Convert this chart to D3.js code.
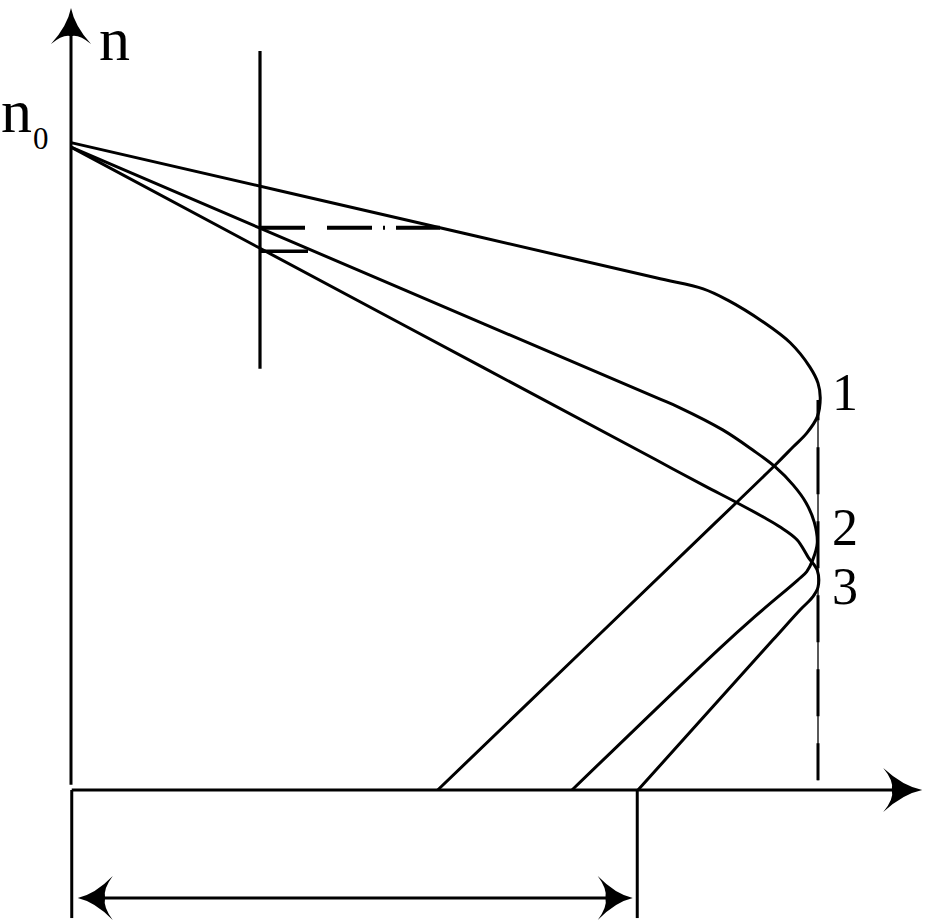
<!DOCTYPE html>
<html><head><meta charset="utf-8">
<script src="https://cdn.jsdelivr.net/npm/d3@7"></script>
<style>html,body{margin:0;padding:0;background:#fff;} svg{display:block;} text{font-family:"Liberation Serif","Times New Roman",serif;}</style>
</head><body>
<svg id="chart" width="935" height="920"></svg>
<script>
// ---- data (x in relative units 0..100, n in relative units, n0 = 100) ----
const curveNames = ["1", "2", "3"];
const curve1 = [[0,99.6],[49.2,86.5],[78.0,78.8],[84.3,77.1],[87.5,75.4],[92.3,72.0],[95.9,68.8],[98.5,65.1],[99.6,62.6],[99.9,60.3],[99.5,57.4],[98.1,54.9],[96.3,52.8],[93.9,50.0],[86.0,41.2],[48.9,0]];
const curve2 = [[0,98.9],[43.9,77.2],[78.0,60.4],[81.2,58.8],[86.9,55.4],[90.9,52.3],[93.9,49.7],[96.3,46.9],[98.0,44.2],[99.1,41.2],[99.5,38.0],[98.9,35.4],[98.1,33.6],[96.9,32.3],[91.1,26.6],[86.5,21.8],[66.8,0]];
const curve3 = [[0,98.9],[43.9,71.8],[78.0,50.8],[81.2,48.8],[84.8,46.6],[88.8,44.2],[92.3,42.0],[94.5,40.5],[96.8,38.5],[98.3,35.8],[99.5,33.8],[99.6,31.2],[98.9,29.7],[97.2,27.7],[93.6,23.1],[75.6,0]];
const labelN = [58.5, 37.7, 28.6];
const axisLabels = ["n", "n", "0"];
// reference construction values
const xMark = 25.2;               // vertical marker line
const markRange = [64.8, 113.7];
const dashLevel = 86.5, dashEnd = 49.2;
const shortLevel = 82.9, shortEnd = 31.6;
const xMax = 99.6, xMaxRange = [1.5, 60];
const boxRight = 75.5, boxBottom = -19.7;
const spanLevel = -16.6, spanRange = [0.9, 74.9];
const xAxisEnd = 113.5, nAxisEnd = 120.3, nAxisStart = 0.8;

// ---- drawing ----
const svg = d3.select("#chart");
const x = d3.scaleLinear().domain([0, 100]).range([71, 821]);
const y = d3.scaleLinear().domain([0, 100]).range([790, 140]);
const ink = "#000";

function seg(x1, n1, x2, n2, w, dash) {
  const l = svg.append("line")
    .attr("x1", x(x1)).attr("y1", y(n1)).attr("x2", x(x2)).attr("y2", y(n2))
    .attr("stroke", ink).attr("stroke-width", w);
  if (dash) l.attr("stroke-dasharray", dash);
  return l;
}
function arrowHead(px, py, angle, L, W) {
  const p = `M0,0 Q${-L*0.5},${-W*0.18} ${-L},${-W} Q${-L*0.72},${-W*0.4} ${-L*0.78},0 Q${-L*0.72},${W*0.4} ${-L},${W} Q${-L*0.5},${W*0.18} 0,0 Z`;
  svg.append("path").attr("d", p).attr("fill", ink)
    .attr("transform", `translate(${px},${py}) rotate(${angle})`);
}

// axes
seg(0, nAxisStart, 0, nAxisEnd - 3, 3);
arrowHead(x(0), y(nAxisEnd), -90, 36, 20);
seg(0.1, 0, xAxisEnd - 3, 0, 3);
arrowHead(x(xAxisEnd), y(0), 0, 39, 22);

// box below axis
seg(0.1, 0, 0.1, boxBottom, 3);
seg(boxRight, 0, boxRight, boxBottom, 3);
seg(spanRange[0] + 3, spanLevel, spanRange[1] - 3, spanLevel, 3);
arrowHead(x(spanRange[0]), y(spanLevel), 180, 35, 22);
arrowHead(x(spanRange[1]), y(spanLevel), 0, 35, 22);

// marker vertical line and levels
seg(xMark, markRange[0], xMark, markRange[1], 3.2);
seg(xMark, dashLevel, dashEnd, dashLevel, 4, "45,22,45,11,2,11");
seg(xMark, shortLevel, shortEnd, shortLevel, 3.5);

// vertical dashed line at the max
seg(xMax, xMaxRange[0], xMax, xMaxRange[1], 1.3);
svg.append("line")
  .attr("x1", x(xMax)).attr("y1", y(xMaxRange[0])).attr("x2", x(xMax)).attr("y2", y(xMaxRange[1]))
  .attr("stroke", ink).attr("stroke-width", 3).attr("stroke-dasharray", "47,27")
  .attr("stroke-dashoffset", 10);

// curves
const line = d3.line().x(d => x(d[0])).y(d => y(d[1])).curve(d3.curveCatmullRom.alpha(0.5));
const curves = [curve1, curve2, curve3];
svg.selectAll("path.curve").data(curves).join("path")
  .attr("class", "curve")
  .attr("d", line).attr("fill", "none").attr("stroke", ink)
  .attr("stroke-width", 3).attr("stroke-linejoin", "round");

// curve labels
svg.selectAll("text.clabel").data(curveNames).join("text")
  .attr("class", "clabel")
  .attr("x", x(xMax) + 27).attr("y", (d, i) => y(labelN[i]))
  .attr("text-anchor", "middle")
  .attr("font-size", 52).attr("fill", ink).text(d => d);

// axis labels
svg.append("text").attr("x", 99).attr("y", 60)
  .attr("font-size", 62).attr("fill", ink).text(axisLabels[0]);
svg.append("text").attr("x", 1).attr("y", 132)
  .attr("font-size", 62).attr("fill", ink).text(axisLabels[1]);
svg.append("text").attr("x", 33).attr("y", 149)
  .attr("font-size", 31).attr("fill", ink).text(axisLabels[2]);
</script>
</body></html>
